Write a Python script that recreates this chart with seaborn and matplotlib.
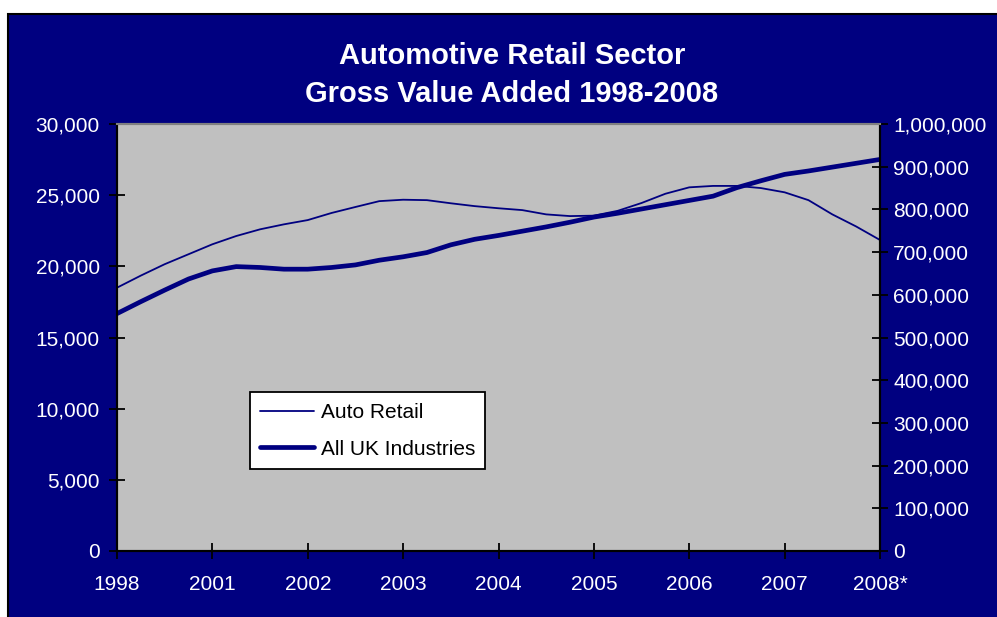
import numpy as np
import pandas as pd
import seaborn as sns
import matplotlib.pyplot as plt
from matplotlib.patches import Rectangle
from matplotlib.ticker import FuncFormatter, MultipleLocator

# Quarterly gross value added, 1998 to 2008
auto_retail = [18500, 19350, 20150, 20850, 21550, 22130, 22600, 22950,
               23250, 23750, 24170, 24580, 24680, 24650, 24430, 24230,
               24080, 23950, 23650, 23530, 23560, 23900, 24450, 25100,
               25550, 25650, 25650, 25500, 25200, 24650, 23650, 22800,
               21850]
all_uk = [556000, 584000, 611000, 637000, 656000, 666000, 664000, 660000,
          660000, 664000, 670000, 681000, 689000, 699000, 717000, 730000,
          739000, 749000, 759000, 770000, 782000, 791000, 801000, 811000,
          821000, 831000, 851000, 867000, 882000, 890000, 899000, 908000,
          917000]
year_labels = ["1998", "2001", "2002", "2003", "2004", "2005", "2006",
               "2007", "2008*"]
series_names = ["Auto Retail", "All UK Industries"]
title_lines = ["Automotive Retail Sector", "Gross Value Added 1998-2008"]

period = np.arange(len(auto_retail))
df = pd.DataFrame({"period": period, "auto": auto_retail, "uk": all_uk})

sns.set_theme(style="white")
plt.rcParams['font.family'] = ['Liberation Sans', 'DejaVu Sans']

NAVY = '#000080'
W, H = 997, 617
fig = plt.figure(figsize=(W / 100, H / 100), dpi=100, facecolor='white')

# chart area background, kept behind the axes
fig.patches.append(Rectangle((8 / W, -0.01), 1.0, (H - 14) / H + 0.01,
                             transform=fig.transFigure, facecolor=NAVY,
                             edgecolor='black', linewidth=1.5, zorder=-10))

ax = fig.add_axes([117 / W, 66 / H, 763 / W, 427 / H])
ax.set_facecolor('#c0c0c0')
ax2 = ax.twinx()

sns.lineplot(data=df, x="period", y="auto", ax=ax, color=NAVY,
             linewidth=1.3, label=series_names[0], legend=False)
sns.lineplot(data=df, x="period", y="uk", ax=ax2, color=NAVY,
             linewidth=3.4, label=series_names[1], legend=False)

ax.set_xlim(0, len(period) - 1)
ax.set_ylim(0, 30000)
ax2.set_ylim(0, 1000000)
ax.set_xticks(np.arange(0, len(period), 4))
ax.set_xticklabels(year_labels)
ax.yaxis.set_major_locator(MultipleLocator(5000))
ax2.yaxis.set_major_locator(MultipleLocator(100000))
fmt = FuncFormatter(lambda v, p: f"{int(v):,}")
ax.yaxis.set_major_formatter(fmt)
ax2.yaxis.set_major_formatter(fmt)
ax.set_xlabel("")
ax.set_ylabel("")
ax2.set_ylabel("")

ax.tick_params(axis='x', bottom=True, direction='inout', length=11,
               width=1.3, color='black', labelcolor='white', labelsize=15,
               pad=12)
ax.tick_params(axis='y', left=True, direction='inout', length=11,
               width=1.3, color='black', labelcolor='white', labelsize=15,
               pad=7)
ax2.tick_params(axis='y', right=True, direction='inout', length=11,
                width=1.3, color='black', labelcolor='white', labelsize=15,
                pad=4)

for a in (ax, ax2):
    for side in ('left', 'right', 'bottom'):
        a.spines[side].set_color('black')
        a.spines[side].set_linewidth(1.5)
        a.spines[side].set_visible(True)
    a.spines['top'].set_color('#808080')
    a.spines['top'].set_linewidth(1.5)
    a.grid(False)

handles = ax.get_lines()[:1] + ax2.get_lines()[:1]
leg = ax2.legend(handles, series_names, loc='lower left',
                 bbox_to_anchor=(0.174, 0.192), borderaxespad=0,
                 frameon=True, fancybox=False, facecolor='white',
                 edgecolor='black', framealpha=1, fontsize=15,
                 handlelength=2.6, handletextpad=0.3, labelspacing=0.85,
                 borderpad=0.5)
leg.get_frame().set_linewidth(1.3)
for t in leg.get_texts():
    t.set_color('black')

fig.text(512 / W, 1 - 64 / H, title_lines[0], ha='center', va='baseline',
         color='white', fontsize=21, fontweight='bold')
fig.text(512 / W, 1 - 102 / H, title_lines[1], ha='center', va='baseline',
         color='white', fontsize=21, fontweight='bold')

fig.savefig("out.png", dpi=100, facecolor=fig.get_facecolor())
